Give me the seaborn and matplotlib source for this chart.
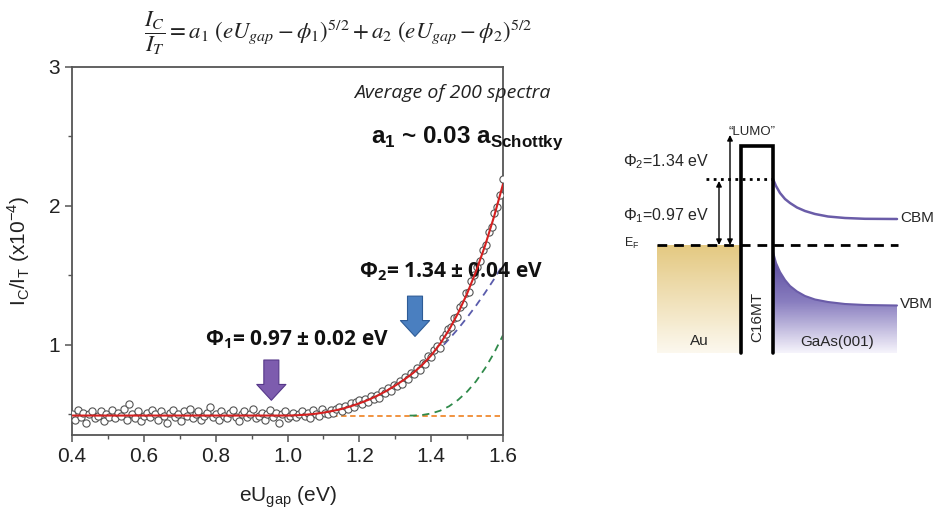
import numpy as np
import pandas as pd
import matplotlib
matplotlib.use("Agg")
import matplotlib.pyplot as plt
from matplotlib.colors import LinearSegmentedColormap
from matplotlib.patches import Polygon
import seaborn as sns

# averaged BEEM spectrum (eU_gap in eV, I_C/I_T in 1e-4)
bias = [
    0.400, 0.408, 0.416, 0.424, 0.432, 0.440, 0.448, 0.456, 0.464, 0.472,
    0.480, 0.488, 0.496, 0.504, 0.512, 0.520, 0.528, 0.536, 0.544, 0.552,
    0.560, 0.568, 0.576, 0.584, 0.592, 0.600, 0.608, 0.616, 0.624, 0.632,
    0.640, 0.648, 0.656, 0.664, 0.672, 0.680, 0.688, 0.696, 0.704, 0.712,
    0.720, 0.728, 0.736, 0.744, 0.752, 0.760, 0.768, 0.776, 0.784, 0.792,
    0.800, 0.808, 0.816, 0.824, 0.832, 0.840, 0.848, 0.856, 0.864, 0.872,
    0.880, 0.888, 0.896, 0.904, 0.912, 0.920, 0.928, 0.936, 0.944, 0.952,
    0.960, 0.968, 0.976, 0.984, 0.992, 1.000, 1.008, 1.016, 1.024, 1.032,
    1.040, 1.048, 1.056, 1.064, 1.072, 1.080, 1.088, 1.096, 1.104, 1.112,
    1.120, 1.128, 1.136, 1.144, 1.152, 1.160, 1.168, 1.176, 1.184, 1.192,
    1.200, 1.208, 1.216, 1.224, 1.232, 1.240, 1.248, 1.256, 1.264, 1.272,
    1.280, 1.288, 1.296, 1.304, 1.312, 1.320, 1.328, 1.336, 1.344, 1.352,
    1.360, 1.368, 1.376, 1.384, 1.392, 1.400, 1.408, 1.416, 1.424, 1.432,
    1.440, 1.448, 1.456, 1.464, 1.472, 1.480, 1.488, 1.496, 1.504, 1.512,
    1.520, 1.528, 1.536, 1.544, 1.552, 1.560, 1.568, 1.576, 1.584, 1.592,
    1.600,
]
ratio = [
    0.50, 0.46, 0.53, 0.48, 0.51, 0.44, 0.50, 0.52, 0.47, 0.49,
    0.52, 0.45, 0.50, 0.48, 0.53, 0.47, 0.51, 0.49, 0.54, 0.46,
    0.57, 0.50, 0.47, 0.52, 0.45, 0.49, 0.51, 0.48, 0.53, 0.50,
    0.46, 0.52, 0.49, 0.44, 0.51, 0.53, 0.48, 0.50, 0.45, 0.52,
    0.49, 0.54, 0.47, 0.50, 0.52, 0.46, 0.49, 0.51, 0.55, 0.48,
    0.50, 0.46, 0.52, 0.49, 0.47, 0.51, 0.53, 0.48, 0.45, 0.50,
    0.52, 0.48, 0.50, 0.54, 0.47, 0.49, 0.51, 0.46, 0.50, 0.53,
    0.48, 0.51, 0.44, 0.50, 0.52, 0.47, 0.49, 0.51, 0.48, 0.50,
    0.52, 0.49, 0.51, 0.47, 0.53, 0.50, 0.49, 0.54, 0.51, 0.50,
    0.53, 0.51, 0.54, 0.55, 0.52, 0.56, 0.54, 0.58, 0.55, 0.59,
    0.60, 0.57, 0.61, 0.59, 0.63, 0.61, 0.64, 0.62, 0.67, 0.65,
    0.69, 0.67, 0.71, 0.70, 0.74, 0.72, 0.77, 0.75, 0.80, 0.79,
    0.83, 0.82, 0.87, 0.86, 0.92, 0.91, 0.96, 0.99, 0.98, 1.05,
    1.08, 1.11, 1.13, 1.19, 1.20, 1.27, 1.29, 1.37, 1.38, 1.46,
    1.50, 1.56, 1.60, 1.68, 1.72, 1.81, 1.85, 1.95, 1.99, 2.08,
    2.19,
]

# fit curves
fit_x = [0.400, 0.970, 1.000, 1.025, 1.050, 1.075, 1.100, 1.125, 1.150,
         1.175, 1.200, 1.225, 1.250, 1.275, 1.300, 1.325, 1.350, 1.375,
         1.400, 1.425, 1.450, 1.475, 1.500, 1.525, 1.550, 1.575, 1.600]
fit_total = [0.490, 0.490, 0.490, 0.492, 0.496, 0.502, 0.511, 0.523, 0.537,
             0.556, 0.578, 0.603, 0.633, 0.667, 0.706, 0.749, 0.797, 0.854,
             0.923, 1.007, 1.108, 1.228, 1.368, 1.529, 1.713, 1.922, 2.156]
phi1_x = fit_x[2:]
phi1_fit = [0.490, 0.492, 0.496, 0.502, 0.511, 0.523, 0.537, 0.556, 0.578,
            0.603, 0.633, 0.667, 0.706, 0.749, 0.797, 0.850, 0.908, 0.972,
            1.041, 1.115, 1.196, 1.282, 1.374, 1.472, 1.577]
phi2_x = [1.340, 1.350, 1.375, 1.400, 1.425, 1.450, 1.475, 1.500, 1.525,
          1.550, 1.575, 1.600]
phi2_fit = [0.490, 0.490, 0.494, 0.505, 0.525, 0.557, 0.603, 0.662, 0.737,
            0.830, 0.940, 1.069]
base_x = [1.05, 1.60]
base_y = [0.49, 0.49]

phi1, phi2 = 0.97, 1.34

# band diagram outline (figure pixels)
cbm_x = [773, 776, 780, 785, 790, 797, 805, 815, 828, 845, 865, 897]
cbm_y = [179, 186, 193, 199, 203, 207.5, 211, 214, 216.5, 218, 218.8, 219]
vbm_x = [773, 776, 780, 785, 790, 797, 805, 815, 828, 845, 865, 897]
vbm_y = [252, 263, 272, 280, 286, 291.5, 296, 299.5, 302, 304, 305, 305.5]

sns.set_theme(style="ticks")
plt.rcParams["font.family"] = ["Liberation Sans", "DejaVu Sans"]

fig = plt.figure(figsize=(9.33, 5.09), dpi=100)
ax = fig.add_axes([72 / 933, 74 / 509, 431 / 933, 368 / 509])

spec = pd.DataFrame({"bias": bias, "ratio": ratio})
sns.lineplot(x=base_x, y=base_y, ax=ax, color="#f08a30", lw=1.3,
             linestyle=(0, (3, 2)), zorder=2)
sns.lineplot(x=phi1_x, y=phi1_fit, ax=ax, color="#5a5cac", lw=1.3,
             linestyle=(0, (4, 3)), zorder=2)
sns.lineplot(x=phi2_x, y=phi2_fit, ax=ax, color="#2f8a4a", lw=1.3,
             linestyle=(0, (4, 3)), zorder=2)
sns.scatterplot(data=spec, x="bias", y="ratio", ax=ax, s=27, marker="o",
                facecolor="white", edgecolor="#555555", linewidth=0.8,
                zorder=3)
sns.lineplot(x=fit_x, y=fit_total, ax=ax, color="#d42020", lw=1.5, zorder=4)

ax.set_xlim(0.4, 1.6)
ax.set_ylim(0.35, 3.0)
ax.set_xticks([0.4, 0.6, 0.8, 1.0, 1.2, 1.4, 1.6])
ax.set_xticks([0.5, 0.7, 0.9, 1.1, 1.3, 1.5], minor=True)
ax.set_yticks([1, 2, 3])
ax.set_yticks([0.5, 1.5, 2.5], minor=True)
ax.set_xticklabels(["0.4", "0.6", "0.8", "1.0", "1.2", "1.4", "1.6"])
ax.tick_params(which="major", length=5, width=1.1, color="#555555",
               labelsize=15, labelcolor="#222222")
ax.tick_params(which="minor", length=3, width=1.0, color="#555555")
for sp in ax.spines.values():
    sp.set_visible(True)
    sp.set_color("#555555")
    sp.set_linewidth(1.3)
ax.set_xlabel(r"eU$_\mathregular{gap}$ (eV)", fontsize=15, color="#222222",
              labelpad=13)
ax.set_ylabel(r"I$_\mathregular{C}$/I$_\mathregular{T}$ (x10$^\mathregular{-4}$)",
              fontsize=15, color="#222222", labelpad=12)

# arrows marking the two thresholds
arrow_style = "simple,head_length=0.95,head_width=1.75,tail_width=0.9"
ax.annotate("", xy=(phi1 - 0.015, 0.60), xytext=(phi1 - 0.015, 0.89),
            arrowprops=dict(arrowstyle=arrow_style, mutation_scale=12,
                            fc="#7d5cae", ec="#56388a", lw=0.8,
                            shrinkA=0, shrinkB=0), zorder=5)
ax.annotate("", xy=(phi2 + 0.015, 1.06), xytext=(phi2 + 0.015, 1.35),
            arrowprops=dict(arrowstyle=arrow_style, mutation_scale=12,
                            fc="#4a7fc0", ec="#2d5b96", lw=0.8,
                            shrinkA=0, shrinkB=0), zorder=5)

ax.text(1.026, 1.036, r"Φ$_\mathregular{1}$= 0.97 ± 0.02 eV", ha="center",
        va="center", fontsize=15, fontweight="bold", family="Open Sans",
        color="#111111")
ax.text(1.455, 1.525, r"Φ$_\mathregular{2}$= 1.34 ± 0.04 eV", ha="center",
        va="center", fontsize=15, fontweight="bold", family="Open Sans",
        color="#111111", clip_on=False)
ax.text(1.458, 2.813, "Average of 200 spectra", ha="center", va="center",
        fontsize=14, style="italic", family="Open Sans", color="#222222",
        clip_on=False)
ax.text(1.50, 2.49, r"a$_\mathregular{1}$ ~ 0.03 a$_\mathregular{Schottky}$",
        ha="center", va="center", fontsize=17.5, fontweight="bold",
        color="#111111", clip_on=False)

fig.text(338 / 933, 1 - 33 / 509,
         r"$\dfrac{I_C}{I_T} = a_1\ (eU_{gap} - \phi_1)^{5/2} + a_2\ (eU_{gap} - \phi_2)^{5/2}$",
         ha="center", va="center", fontsize=16.5, math_fontfamily="stix",
         color="#222222")

# energy band diagram
dx = fig.add_axes([610 / 933, (509 - 375) / 509, 323 / 933, 260 / 509])
dx.set_xlim(610, 933)
dx.set_ylim(375, 115)
dx.axis("off")

ef_y, top_y, bot_y = 245, 146, 353
left_x, right_x = 740.7, 773.3

au_cmap = LinearSegmentedColormap.from_list("au", ["#e4c982", "#fcf8ee"])
grad = np.linspace(0, 1, 64).reshape(-1, 1)
dx.imshow(grad, cmap=au_cmap, extent=(657, left_x, bot_y, ef_y),
          aspect="auto", zorder=1)

gaas_cmap = LinearSegmentedColormap.from_list("gaas", ["#54449a", "#8a7fc0", "#f5f3fb"])
im = dx.imshow(grad, cmap=gaas_cmap, extent=(right_x, 897, bot_y, vbm_y[0]),
               aspect="auto", zorder=1)
verts = list(zip(vbm_x, vbm_y)) + [(897, bot_y), (right_x, bot_y)]
clip = Polygon(verts, closed=True, fc="none", ec="none", transform=dx.transData)
dx.add_patch(clip)
im.set_clip_path(clip)

dx.plot(cbm_x, cbm_y, color="#6a5ca8", lw=1.8, zorder=3)
dx.plot(vbm_x, vbm_y, color="#6a5ca8", lw=1.5, zorder=3)
dx.plot([left_x, left_x, right_x, right_x], [bot_y, top_y, top_y, bot_y],
        color="black", lw=2.6, zorder=4, solid_joinstyle="miter")
dx.plot([657, 898], [ef_y, ef_y], color="black", lw=2.0,
        linestyle=(0, (3.5, 2.5)), zorder=4)
dx.plot([706, right_x], [cbm_y[0], cbm_y[0]], color="black", lw=2.0,
        linestyle=(0, (1, 1.6)), zorder=4)

for ax_x, y_end in [(719, cbm_y[0] + 2), (730, 135)]:
    dx.annotate("", xy=(ax_x, ef_y), xytext=(ax_x, y_end),
                arrowprops=dict(arrowstyle="<|-|>", color="black", lw=1.0,
                                mutation_scale=8, shrinkA=0, shrinkB=0),
                zorder=5)

dx.text(752, 132, "\u201cLUMO\u201d", ha="center", va="center", fontsize=9.5)
dx.text(666, 162, r"Φ$_\mathregular{2}$=1.34 eV", ha="center", va="center",
        fontsize=11.5)
dx.text(666, 216, r"Φ$_\mathregular{1}$=0.97 eV", ha="center", va="center",
        fontsize=11.5)
dx.text(632, 243, r"E$_\mathregular{F}$", ha="center", va="center", fontsize=9)
dx.text(900, 218, "CBM", ha="left", va="center", fontsize=11)
dx.text(900, 304, "VBM", ha="left", va="center", fontsize=11)
dx.text(699, 341, "Au", ha="center", va="center", fontsize=11)
dx.text(837, 342, "GaAs(001)", ha="center", va="center", fontsize=11)
dx.text(757, 317, "C16MT", ha="center", va="center", fontsize=11,
        rotation=90)

fig.savefig("out.png", dpi=100)
